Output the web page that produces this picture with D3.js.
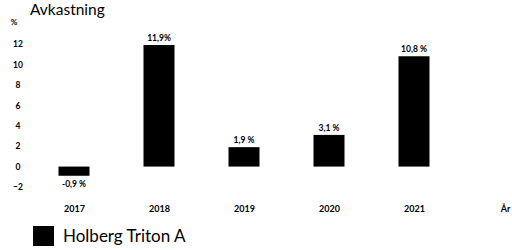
<!DOCTYPE html>
<html>
<head>
<meta charset="utf-8">
<script src="https://cdn.jsdelivr.net/npm/d3@7"></script>
<style>
  body { margin: 0; background: #fff; }
  svg { display: block; font-family: Lato, "DejaVu Sans", sans-serif; }
</style>
</head>
<body>
<div id="chart"></div>
<script>
// data
var years = ["2017", "2018", "2019", "2020", "2021"];
var returns = [-0.9, 11.9, 1.9, 3.1, 10.8];
var valueLabels = ["-0,9 %", "11,9%", "1,9 %", "3,1 %", "10,8 %"];
var yTicks = [-2, 0, 2, 4, 6, 8, 10, 12];
var seriesName = "Holberg Triton A";

var W = 512, H = 250;
var svg = d3.select("#chart").append("svg").attr("width", W).attr("height", H);

var x = d3.scalePoint().domain(years.concat(["År"])).range([74, 499]);
var y = d3.scaleLinear().domain([-2, 12]).range([187, 44]);
var barW = 31;

// titles
svg.append("text").attr("x", 30).attr("y", 15).attr("font-size", 15.5).text("Avkastning");
svg.append("text").attr("x", 14).attr("y", 25).attr("font-size", 8).attr("font-weight", "bold")
  .attr("text-anchor", "middle").text("%");

// y axis labels (no line)
var yAxis = d3.axisLeft(y).tickValues(yTicks).tickSize(0).tickPadding(0);
var gy = svg.append("g").attr("transform", "translate(23,0)").call(yAxis);
gy.select(".domain").remove();
gy.selectAll("text").attr("font-size", 8.5).attr("text-anchor", "middle").attr("dx", -5)
  .attr("font-family", "Lato, sans-serif").attr("font-weight", "bold").attr("fill", "#000");

// x axis labels
var xAxis = d3.axisBottom(x).tickSize(0).tickPadding(0);
var gx = svg.append("g").attr("transform", "translate(0,206)").call(xAxis);
gx.select(".domain").remove();
gx.selectAll("text").attr("font-size", 9).attr("font-family", "Lato, sans-serif")
  .attr("font-weight", "bold").attr("fill", "#000")
  .attr("dx", function (d) { return d === "År" ? 6 : 0; });

// bars
svg.selectAll("rect.bar").data(returns).enter().append("rect")
  .attr("class", "bar")
  .attr("x", function (d, i) { return x(years[i]) - barW / 2; })
  .attr("y", function (d) { return y(Math.max(0, d)); })
  .attr("width", barW)
  .attr("height", function (d) { return Math.abs(y(d) - y(0)); })
  .attr("fill", "#000");

// value labels
svg.selectAll("text.val").data(returns).enter().append("text")
  .attr("class", "val")
  .attr("x", function (d, i) { return x(years[i]); })
  .attr("y", function (d) { return d < 0 ? y(d) + 11 : y(d) - 4; })
  .attr("text-anchor", "middle").attr("font-size", 8.5).attr("font-weight", "bold")
  .text(function (d, i) { return valueLabels[i]; });

// legend
var lg = svg.append("g").attr("transform", "translate(33,226)");
lg.append("rect").attr("width", 21).attr("height", 20).attr("fill", "#000");
lg.append("text").attr("x", 30).attr("y", 16).attr("font-size", 17).text(seriesName);
</script>
</body>
</html>
